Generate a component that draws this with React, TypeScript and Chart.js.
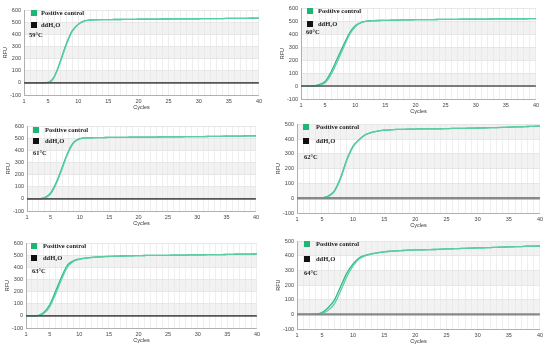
import React, { useEffect, useRef } from "react";
import { Chart, registerables } from "chart.js";

Chart.register(...registerables);
Chart.defaults.font.family = "'Liberation Sans', Arial, sans-serif";

// ---------- data ----------
const cycles = [1,2,3,4,5,6,7,8,9,10,11,12,13,14,15,16,17,18,19,20,21,22,23,24,25,26,27,28,29,30,31,32,33,34,35,36,37,38,39,40];
const xTickLabels = [1, 5, 10, 15, 20, 25, 30, 35, 40];
const seriesNames = ["Positive control", "ddH\u2082O"];
const temperatures = ["59\u00b0C", "60\u00b0C", "61\u00b0C", "62\u00b0C", "63\u00b0C", "64\u00b0C"];

const ddH2O = [0,0,0,0,0,0,0,0,0,0,0,0,0,0,0,0,0,0,0,0,0,0,0,0,0,0,0,0,0,0,0,0,0,0,0,0,0,0,0,0];

const pc59a = [0,0,0,0,4,50,175,320,430,485,512,520,522,523,523,524,524,525,525,526,526,527,527,528,528,529,529,530,530,530,531,531,532,532,533,533,534,534,535,535];
const pc59b = [0,0,0,0,3,45,168,312,425,483,511,520,522,523,523,524,524,525,525,526,526,527,527,528,528,529,529,530,530,530,531,531,532,532,533,533,534,534,535,535];

const pc60a = [0,0,2,12,35,110,210,310,405,465,492,502,505,506,507,508,509,510,511,512,512,513,513,514,514,515,515,516,516,517,517,517,518,518,518,519,519,519,520,520];
const pc60b = [0,0,0,6,25,90,185,290,392,458,489,500,504,506,507,508,509,510,511,512,512,513,513,514,514,515,515,516,516,517,517,517,518,518,518,519,519,519,520,520];

const pc61a = [0,0,0,10,47,137,262,388,470,498,504,505,506,507,508,508,509,509,510,510,510,511,511,512,512,513,513,514,514,515,515,516,517,517,518,519,519,520,521,522];
const pc61b = [0,0,0,7,40,128,252,380,465,496,503,505,506,507,508,508,509,509,510,510,510,511,511,512,512,513,513,514,514,515,515,516,517,517,518,519,519,520,521,522];

const pc62a = [0,0,0,0,2,15,50,140,262,352,398,430,446,454,460,463,465,466,467,468,469,469,470,470,471,472,472,473,474,475,476,477,478,479,480,482,483,485,486,488];
const pc62b = [0,0,0,0,1,12,45,132,255,347,396,429,445,454,460,463,465,466,467,468,469,469,470,470,471,472,472,473,474,475,476,477,478,479,480,482,483,485,486,488];

const pc63a = [0,0,3,28,92,205,322,420,455,470,478,483,487,490,492,494,495,496,497,498,499,500,500,501,501,502,503,503,504,505,505,506,507,507,508,509,510,510,511,512];
const pc63b = [0,0,1,20,75,182,300,405,450,467,476,482,486,489,491,494,495,496,497,498,499,500,500,501,501,502,503,503,504,505,505,506,507,507,508,509,510,510,511,512];

const pc64a = [0,0,0,1,12,45,98,190,282,345,388,405,415,422,428,432,435,437,439,441,442,443,444,446,448,449,450,452,453,455,456,457,459,460,462,463,464,466,467,468];
const pc64b = [0,0,0,0,5,28,72,160,258,332,380,402,413,421,427,432,435,437,439,441,442,443,444,446,448,449,450,452,453,455,456,457,459,460,462,463,464,466,467,468];

// ---------- layout / style ----------
type Panel = {
  L: number; R: number; T: number; B: number; ymax: number;
  a: number[]; b: number[]; temp: string;
  sqX: number; sqY1: number; sqY2: number; textX: number; tempX: number; tempY: number;
  zeroColor: string; zeroWidth: number;
};

const panels: Panel[] = [
  { L: 24, R: 259, T: 10, B: 95, ymax: 600, a: pc59a, b: pc59b, temp: temperatures[0], sqX: 31, sqY1: 10, sqY2: 22, textX: 41, tempX: 29, tempY: 35, zeroColor: "#555", zeroWidth: 1.6 },
  { L: 301, R: 536, T: 8, B: 99, ymax: 600, a: pc60a, b: pc60b, temp: temperatures[1], sqX: 307, sqY1: 8, sqY2: 21, textX: 318, tempX: 306, tempY: 32, zeroColor: "#555", zeroWidth: 1.6 },
  { L: 27, R: 256, T: 126, B: 211, ymax: 600, a: pc61a, b: pc61b, temp: temperatures[2], sqX: 33, sqY1: 127, sqY2: 138, textX: 45, tempX: 33, tempY: 153, zeroColor: "#555", zeroWidth: 1.6 },
  { L: 297, R: 540, T: 124, B: 213, ymax: 500, a: pc62a, b: pc62b, temp: temperatures[3], sqX: 303, sqY1: 124, sqY2: 138, textX: 316, tempX: 304, tempY: 157, zeroColor: "#888", zeroWidth: 2.4 },
  { L: 26, R: 257, T: 243, B: 328, ymax: 600, a: pc63a, b: pc63b, temp: temperatures[4], sqX: 31, sqY1: 243, sqY2: 255, textX: 43, tempX: 32, tempY: 271, zeroColor: "#555", zeroWidth: 1.6 },
  { L: 297, R: 540, T: 241, B: 329, ymax: 500, a: pc64a, b: pc64b, temp: temperatures[5], sqX: 304, sqY1: 241, sqY2: 256, textX: 316, tempX: 304, tempY: 273, zeroColor: "#888", zeroWidth: 2.4 },
];

const GREEN_A = "#2fba86";
const GREEN_B = "#5ccfa2";
const SQ_GREEN = "#1fb574";
const YW = 22, PT = 6, PR = 6, XH = 17;

const bandPlugin = {
  id: "bands",
  beforeDraw(chart: any) {
    const { ctx, chartArea, scales } = chart;
    const y = scales.y;
    ctx.save();
    ctx.fillStyle = "#f2f2f2";
    for (const lo of [0, 200, 400]) {
      const hi = lo + 100;
      if (hi > y.max) continue;
      const top = y.getPixelForValue(hi);
      const bot = y.getPixelForValue(lo);
      ctx.fillRect(chartArea.left, top, chartArea.right - chartArea.left, bot - top);
    }
    ctx.restore();
  },
};

function PanelChart({ p }: { p: Panel }) {
  const ref = useRef<HTMLCanvasElement>(null);
  const left = p.L - YW;
  const top = p.T - PT;
  const width = p.R - p.L + YW + PR;
  const height = p.B - p.T + PT + XH;

  useEffect(() => {
    const font = { size: 5.5 };
    const chart = new Chart(ref.current!, {
      type: "line",
      data: {
        datasets: [
          { label: seriesNames[1], data: cycles.map((c, i) => ({ x: c, y: ddH2O[i] })), borderColor: p.zeroColor, borderWidth: p.zeroWidth, pointRadius: 0 },
          { label: seriesNames[0], data: cycles.map((c, i) => ({ x: c, y: p.b[i] })), borderColor: GREEN_B, borderWidth: 1.3, pointRadius: 0, cubicInterpolationMode: "monotone" },
          { label: seriesNames[0], data: cycles.map((c, i) => ({ x: c, y: p.a[i] })), borderColor: GREEN_A, borderWidth: 1.3, pointRadius: 0, cubicInterpolationMode: "monotone" },
        ],
      },
      options: {
        animation: false,
        responsive: false,
        maintainAspectRatio: false,
        layout: { padding: { top: PT, right: PR, left: 0, bottom: 0 } },
        plugins: { legend: { display: false }, tooltip: { enabled: false } },
        scales: {
          x: {
            type: "linear",
            min: 1,
            max: 40,
            afterFit: (s: any) => { s.height = XH; },
            ticks: {
              stepSize: 1,
              autoSkip: false,
              maxRotation: 0,
              padding: 3,
              font,
              color: "#444",
              callback: (v: any) => (xTickLabels.includes(Number(v)) ? String(v) : ""),
            },
            grid: { color: "#e4e4e4", lineWidth: 0.6, drawTicks: false },
            border: { color: "#b0b0b0" },
            title: { display: true, text: "Cycles", font, color: "#333", padding: { top: 0, bottom: 1 } },
          },
          y: {
            min: -100,
            max: p.ymax,
            afterFit: (s: any) => { s.width = YW; },
            ticks: { stepSize: 100, padding: 3, font, color: "#444" },
            grid: { color: "#e2e2e2", lineWidth: 0.8, drawTicks: false },
            border: { color: "#b0b0b0" },
            title: { display: true, text: "RFU", font, color: "#333", padding: { top: 0, bottom: 0 } },
          },
        },
      } as any,
      plugins: [bandPlugin],
    });
    return () => chart.destroy();
  }, []);

  const textStyle: React.CSSProperties = {
    position: "absolute",
    fontFamily: "'Liberation Serif', 'DejaVu Serif', serif",
    fontWeight: "bold",
    fontSize: "6.5px",
    lineHeight: "8px",
    color: "#222",
    whiteSpace: "nowrap",
  };

  return (
    <>
      <canvas ref={ref} width={width} height={height} style={{ position: "absolute", left, top, width, height }} />
      <div style={{ position: "absolute", left: p.sqX, top: p.sqY1, width: 6, height: 6, background: SQ_GREEN }} />
      <div style={{ ...textStyle, left: p.textX, top: p.sqY1 - 1 }}>{seriesNames[0]}</div>
      <div style={{ position: "absolute", left: p.sqX, top: p.sqY2, width: 6, height: 6, background: "#111" }} />
      <div style={{ ...textStyle, left: p.textX, top: p.sqY2 - 1 }}>{seriesNames[1]}</div>
      <div style={{ ...textStyle, left: p.tempX, top: p.tempY - 4 }}>{p.temp}</div>
    </>
  );
}

export default function App() {
  return (
    <div style={{ position: "absolute", left: 0, top: 0, width: 550, height: 346, background: "#fff", overflow: "hidden" }}>
      {panels.map((p, i) => (
        <PanelChart key={i} p={p} />
      ))}
    </div>
  );
}
